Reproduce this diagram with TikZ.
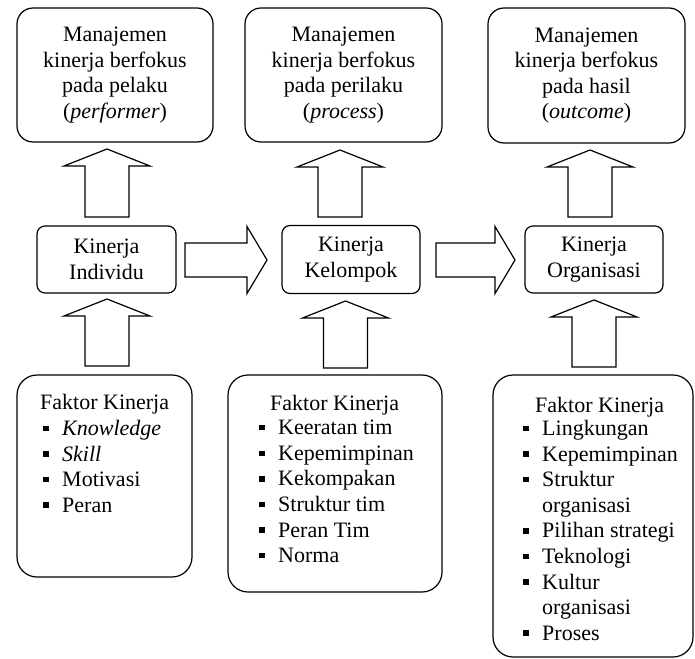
\documentclass[tikz,border=0pt]{standalone}
\usepackage{fontspec}
\setmainfont{Liberation Serif}
\usetikzlibrary{calc}
\newcommand{\bul}{\makebox[19pt][l]{\raisebox{4.3pt}{\rule{5.5pt}{5.5pt}}}}
\newcommand{\upblock}[3]{% cx, tip y, tail y
  \draw[blockarrow] (#1-22,#3) -- (#1-22,#2+17) -- (#1-43,#2+17) -- (#1,#2)
    -- (#1+43,#2+17) -- (#1+22,#2+17) -- (#1+22,#3) -- cycle;}
\newcommand{\rightblock}[3]{% cy, tail x, tip x
  \draw[blockarrow] (#2,#1-17) -- (#3-20,#1-17) -- (#3-20,#1-33.5) -- (#3,#1)
    -- (#3-20,#1+33.5) -- (#3-20,#1+17) -- (#2,#1+17) -- cycle;}
\begin{document}
\begin{tikzpicture}[x=1pt,y=-1pt,
  every node/.style={font=\fontsize{22}{25.5}\selectfont, inner sep=0pt},
  topbox/.style={draw, line width=1.2pt, rounded corners=16pt, align=center},
  midbox/.style={draw, line width=1.2pt, rounded corners=8pt, align=center},
  botbox/.style={draw, line width=1.2pt, rounded corners=20pt},
  listtext/.style={align=left, anchor=north west, font=\fontsize{22}{25.6}\selectfont},
  blockarrow/.style={draw, line width=1.2pt, fill=white, line join=miter}]
\useasboundingbox (0,0) rectangle (695,658);
% top boxes
\node[topbox, minimum width=196pt, minimum height=134pt] (m1) at (115,75)
  {Manajemen\\kinerja berfokus\\pada pelaku\\(\textit{performer})};
\node[topbox, minimum width=197pt, minimum height=134pt] (m2) at (343.5,75)
  {Manajemen\\kinerja berfokus\\pada perilaku\\(\textit{process})};
\node[topbox, minimum width=197pt, minimum height=135pt] (m3) at (586.5,75.5)
  {Manajemen\\kinerja berfokus\\pada hasil\\(\textit{outcome})};
% middle boxes
\node[midbox, minimum width=139pt, minimum height=67pt] (k1) at (106.5,259.5) {Kinerja\\Individu};
\node[midbox, minimum width=138pt, minimum height=68pt] (k2) at (351,259.5) {Kinerja\\Kelompok};
\node[midbox, minimum width=138pt, minimum height=67pt] (k3) at (594,259.5) {Kinerja\\Organisasi};
% bottom boxes
\node[botbox, minimum width=175pt, minimum height=202pt] (f1) at (104.5,476) {};
\node[botbox, minimum width=214pt, minimum height=217pt] (f2) at (335,483.5) {};
\node[botbox, minimum width=200pt, minimum height=282pt] (f3) at (593,516) {};
% bottom texts
\node[anchor=base west] (f1h) at (40,409) {Faktor Kinerja};
\node[listtext] (f1l) at (43,420) {\bul\textit{Knowledge}\\\bul\textit{Skill}\\\bul Motivasi\\\bul Peran};
\node[anchor=base west] (f2h) at (270,410) {Faktor Kinerja};
\node[listtext] (f2l) at (259,420) {\bul Keeratan tim\\\bul Kepemimpinan\\\bul Kekompakan\\\bul Struktur tim\\\bul Peran Tim\\\bul Norma};
\node[anchor=base west] (f3h) at (535,412) {Faktor Kinerja};
\node[listtext] (f3l) at (523,420) {\bul Lingkungan\\\bul Kepemimpinan\\\bul Struktur\\\hspace*{19pt}organisasi\\\bul Pilihan strategi\\\bul Teknologi\\\bul Kultur\\\hspace*{19pt}organisasi\\\bul Proses};
% up arrows to top boxes
\upblock{107}{149}{217}
\upblock{340}{150}{217}
\upblock{590}{150}{217}
% up arrows from bottom boxes
\upblock{107}{299}{366}
\upblock{345.5}{301}{368}
\upblock{594}{300}{367}
% right arrows
\rightblock{260}{185}{267}
\rightblock{260}{436}{515}
\end{tikzpicture}
\end{document}
